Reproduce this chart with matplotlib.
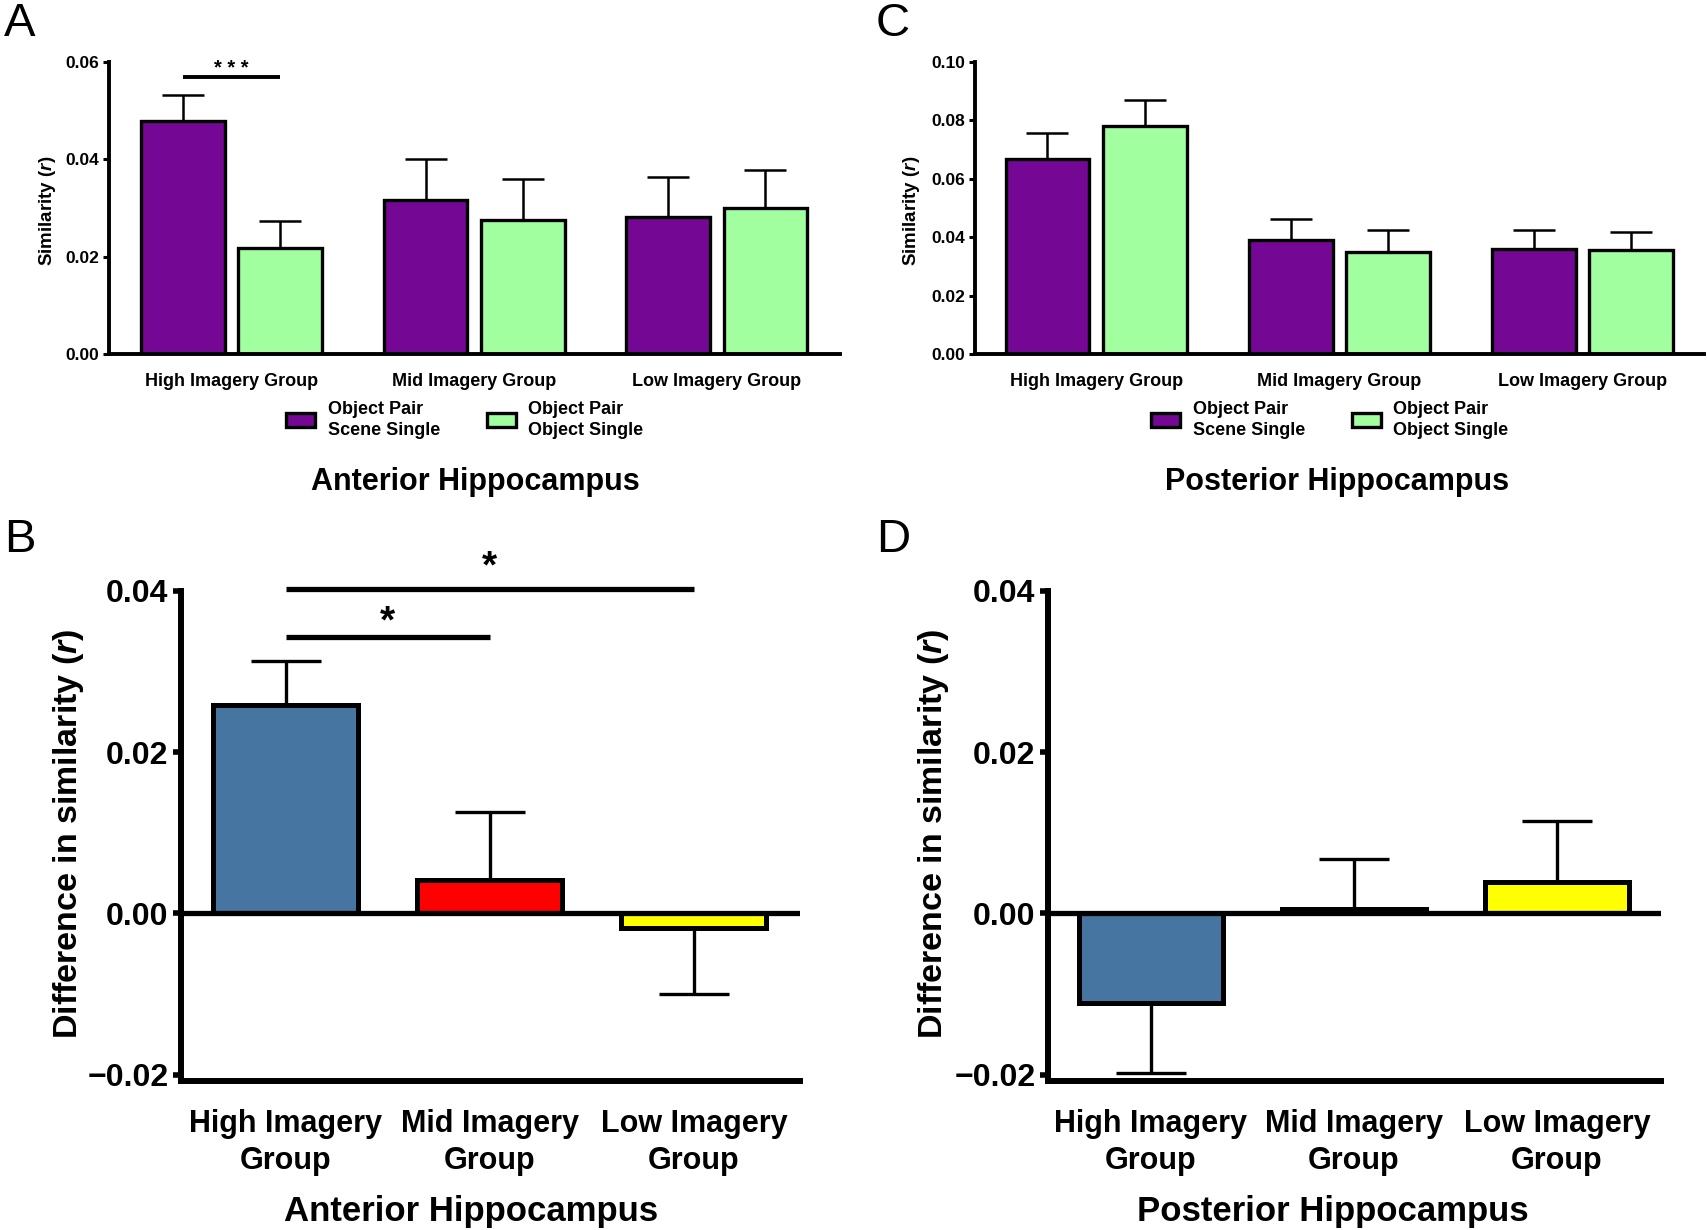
import matplotlib
matplotlib.use("Agg")
import matplotlib.pyplot as plt
from matplotlib.patches import Patch
from matplotlib.ticker import FuncFormatter
import numpy as np

plt.rcParams['font.family'] = ['Liberation Sans', 'DejaVu Sans']
plt.rcParams['font.weight'] = 'bold'
plt.rcParams['mathtext.fontset'] = 'custom'
plt.rcParams['mathtext.it'] = 'Liberation Sans:italic:bold'
plt.rcParams['mathtext.rm'] = 'Liberation Sans:bold'
plt.rcParams['mathtext.bf'] = 'Liberation Sans:bold'

# ---------------- data ----------------
groups = ["High Imagery Group", "Mid Imagery Group", "Low Imagery Group"]
diff_labels = ["High Imagery\nGroup", "Mid Imagery\nGroup", "Low Imagery\nGroup"]
series_names = ["Object Pair\nScene Single", "Object Pair\nObject Single"]

ant_scene = [0.0478, 0.0317, 0.0282]
ant_scene_err = [0.0054, 0.0084, 0.0081]
ant_object = [0.0218, 0.0275, 0.0299]
ant_object_err = [0.0055, 0.0085, 0.0080]

post_scene = [0.0669, 0.0389, 0.0360]
post_scene_err = [0.0088, 0.0073, 0.0064]
post_object = [0.0782, 0.0349, 0.0355]
post_object_err = [0.0089, 0.0077, 0.0064]

ant_diff = [0.0258, 0.0041, -0.0018]
ant_diff_err = [0.0055, 0.0085, 0.0082]
post_diff = [-0.0111, 0.0006, 0.0039]
post_diff_err = [0.0087, 0.0062, 0.0075]

top_yticks_A = [0.00, 0.02, 0.04, 0.06]
top_yticks_C = [0.00, 0.02, 0.04, 0.06, 0.08, 0.10]
diff_yticks = [-0.02, 0.00, 0.02, 0.04]

PURPLE = "#740793"
GREEN = "#A2FFA0"
BLUE = "#4575A0"
RED = "#FF0000"
YELLOW = "#FFFF00"
diff_colors = [BLUE, RED, YELLOW]

W, H = 1707, 1230
fig = plt.figure(figsize=(W / 100, H / 100), dpi=100)


def fmt(v, pos):
    s = "%.2f" % abs(v)
    return ("\u2212" + s) if v < -1e-12 else s


def one_sided(vals, errs):
    lo = [e if v < 0 else 0 for v, e in zip(vals, errs)]
    hi = [0 if v < 0 else e for v, e in zip(vals, errs)]
    return [lo, hi]


def top_panel(rect, xlim, ylim, yticks, s1, e1, s2, e2, ylabel_x):
    ax = fig.add_axes(rect)
    x = np.arange(len(groups))
    w, off = 0.345, 0.2
    ax.bar(x - off, s1, w, color=PURPLE, edgecolor="black", linewidth=2.4, zorder=2)
    ax.bar(x + off, s2, w, color=GREEN, edgecolor="black", linewidth=2.4, zorder=2)
    for xs, v, e in ((x - off, s1, e1), (x + off, s2, e2)):
        ax.errorbar(xs, v, yerr=one_sided(v, e), fmt="none", ecolor="black",
                    elinewidth=1.8, capsize=15, capthick=1.8, zorder=1)
    ax.set_xlim(*xlim)
    ax.set_ylim(*ylim)
    ax.set_yticks(yticks)
    ax.yaxis.set_major_formatter(FuncFormatter(fmt))
    ax.set_xticks(x)
    ax.set_xticklabels(groups, fontsize=13, fontweight="bold")
    ax.tick_params(axis="x", length=0, pad=14)
    ax.tick_params(axis="y", length=4, width=2.2, pad=3, labelsize=12.5)
    for t in ax.get_yticklabels():
        t.set_fontweight("bold")
    for s in ("top", "right"):
        ax.spines[s].set_visible(False)
    ax.spines["left"].set_linewidth(2.8)
    ax.spines["bottom"].set_linewidth(2.8)
    fig.text(ylabel_x, rect[1] + rect[3] / 2 - 0.002, "Similarity ($r$)", rotation=90,
             ha="center", va="center", fontsize=13.5, fontweight="bold")
    return ax


def diff_panel(rect, xlim, vals, errs, ylabel_x):
    ax = fig.add_axes(rect)
    x = np.arange(len(diff_labels))
    ax.bar(x, vals, 0.71, color=diff_colors, edgecolor="black", linewidth=3.6, zorder=2)
    ax.errorbar(x, vals, yerr=one_sided(vals, errs), fmt="none", ecolor="black",
                elinewidth=2.4, capsize=25, capthick=2.4, zorder=1)
    ax.axhline(0, color="black", linewidth=3.8, zorder=3)
    ax.set_xlim(*xlim)
    ax.set_ylim(-0.0208, 0.04)
    ax.set_yticks(diff_yticks)
    ax.yaxis.set_major_formatter(FuncFormatter(fmt))
    ax.set_xticks(x)
    ax.set_xticklabels(diff_labels, fontsize=22, fontweight="bold", linespacing=1.3)
    ax.tick_params(axis="x", length=0, pad=20)
    ax.tick_params(axis="y", length=6, width=4, pad=3, labelsize=23)
    for t in ax.get_yticklabels():
        t.set_fontweight("bold")
    for s in ("top", "right"):
        ax.spines[s].set_visible(False)
    ax.spines["left"].set_linewidth(4.3)
    ax.spines["bottom"].set_linewidth(4.3)
    fig.text(ylabel_x, 1 - 834 / H, "Difference in similarity ($r$)", rotation=90,
             ha="center", va="center", fontsize=24.5, fontweight="bold")
    return ax


axA = top_panel([109 / W, 1 - 354 / H, (840 - 109) / W, 292 / H], (-0.504, 2.507), (0, 0.06),
                top_yticks_A, ant_scene, ant_scene_err, ant_object, ant_object_err, 48 / W)
axC = top_panel([975 / W, 1 - 354 / H, (1704 - 975) / W, 292 / H], (-0.498, 2.50), (0, 0.10),
                top_yticks_C, post_scene, post_scene_err, post_object, post_object_err, 912 / W)

axB = diff_panel([181 / W, 1 - 1081 / H, (800 - 181) / W, 490 / H], (-0.512, 2.52),
                 ant_diff, ant_diff_err, 69 / W)
axD = diff_panel([1048 / W, 1 - 1081 / H, (1661 - 1048) / W, 490 / H], (-0.506, 2.513),
                 post_diff, post_diff_err, 933 / W)

# significance markers
axA.plot([-0.2, 0.2], [0.0569, 0.0569], color="black", lw=2.8, clip_on=False,
         solid_capstyle="butt")
axA.text(0, 0.0575, "* * *", ha="center", va="baseline", fontsize=14.5, fontweight="bold",
         clip_on=False)
axB.plot([0, 1], [0.0343, 0.0343], color="black", lw=3.8, clip_on=False, solid_capstyle="butt")
axB.plot([0, 2], [0.0402, 0.0402], color="black", lw=3.8, clip_on=False, solid_capstyle="butt")
axB.text(0.5, 0.0349, "*", ha="center", va="baseline", fontsize=28, fontweight="bold",
         clip_on=False)
axB.text(1.0, 0.0417, "*", ha="center", va="baseline", fontsize=28, fontweight="bold",
         clip_on=False)

# legends
for lx in (286 / W, 1151 / W):
    handles = [Patch(facecolor=PURPLE, edgecolor="black", linewidth=2.4, joinstyle="round"),
               Patch(facecolor=GREEN, edgecolor="black", linewidth=2.4, joinstyle="round")]
    leg = fig.legend(handles, series_names, ncol=2, loc="upper left",
                     bbox_to_anchor=(lx, 1 - 401 / H), bbox_transform=fig.transFigure,
                     frameon=False, handlelength=1.6, handleheight=0.8,
                     handletextpad=0.7, columnspacing=2.6, borderpad=0, borderaxespad=0,
                     prop={"weight": "bold", "size": 13})
    for t in leg.get_texts():
        t.set_linespacing(1.3)

# region titles
fig.text(475 / W, 1 - 482 / H, "Anterior Hippocampus", ha="center", va="center",
         fontsize=22, fontweight="bold")
fig.text(1337 / W, 1 - 482 / H, "Posterior Hippocampus", ha="center", va="center",
         fontsize=22, fontweight="bold")
fig.text(471 / W, 1 - 1211 / H, "Anterior Hippocampus", ha="center", va="center",
         fontsize=25, fontweight="bold")
fig.text(1333 / W, 1 - 1211 / H, "Posterior Hippocampus", ha="center", va="center",
         fontsize=25, fontweight="bold")

# panel letters
for lbl, px, py in (("A", 4, 2), ("C", 876, 2), ("B", 4, 518), ("D", 876, 518)):
    fig.text(px / W, 1 - py / H, lbl, ha="left", va="top", fontsize=34, fontweight="normal")

fig.savefig("out.png", dpi=100)
